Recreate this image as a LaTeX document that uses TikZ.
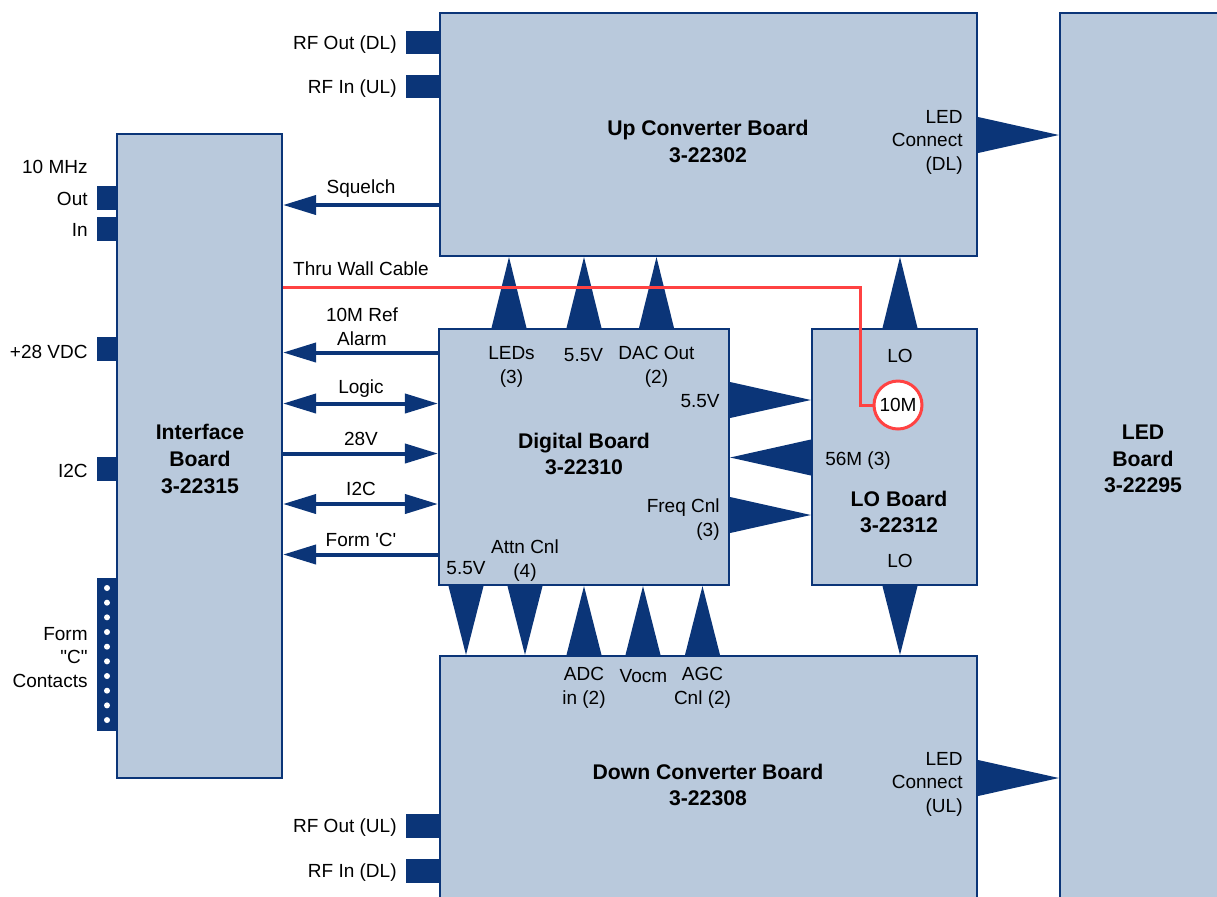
\documentclass[tikz,border=0pt]{standalone}
\usepackage{fontspec}
\setmainfont{Liberation Sans}[Ligatures=TeXOff]
\usetikzlibrary{arrows.meta,fit,calc}

\definecolor{boardfill}{HTML}{B9C9DC}
\definecolor{navy}{HTML}{0B3578}
\definecolor{cablered}{HTML}{FF4242}

% vertical wedge: x centre, base (node anchor), tip (node anchor)
\newcommand\vwedge[3]{\fill[wedge] (#1-17.5,0 |- #2) -- (#1+17.5,0 |- #2) -- (#1,0 |- #3) -- cycle;}
% horizontal wedge: y centre, base (node anchor), tip (node anchor)
\newcommand\hwedge[3]{\fill[wedge] (#2 |- 0,#1-18) -- (#2 |- 0,#1+18) -- (#3 |- 0,#1) -- cycle;}

\begin{document}
\begin{tikzpicture}[x=0.5pt, y=-0.5pt,
  board/.style={draw=navy, fill=boardfill, line width=1.1pt, inner sep=0pt},
  title/.style={font=\fontsize{10.6}{13.3}\selectfont\bfseries, align=center},
  lbl/.style={font=\fontsize{9.5}{11.75}\selectfont, align=center, inner sep=0pt, yshift=-1.2pt},
  rlbl/.style={lbl, align=right, anchor=east},
  wedge/.style={fill=navy},
  tab/.style={fill=navy},
  sig/.style={navy, line width=2pt, -{Triangle[length=16.5pt, width=9.5pt]}},
  sigboth/.style={sig, {Triangle[length=16.5pt, width=9.5pt]}-{Triangle[length=16.5pt, width=9.5pt]}},
  cable/.style={cablered, line width=1.5pt}]

\useasboundingbox (0,0) rectangle (1217,896);
\clip (0,0) rectangle (1217,896);

% ---- boards ----
\node[board, fit={(440,13) (977,256)}] (up) {};
\node[board, fit={(1060,13) (1240,920)}] (led) {};
\node[board, fit={(117,134) (282,778)}] (iface) {};
\node[board, fit={(439,329) (729,585)}] (dig) {};
\node[board, fit={(812,329) (977,585)}] (lo) {};
\node[board, fit={(440,656) (977,920)}] (down) {};

\node[title] (uptitle) at (708,141.5) {Up Converter Board\\3-22302};
\node[title] (ledtitle) at (1143,459) {LED\\Board\\3-22295};
\node[title] (iftitle) at (200,459) {Interface\\Board\\3-22315};
\node[title] (digtitle) at (584,454) {Digital Board\\3-22310};
\node[title] (lotitle) at (899,512) {LO Board\\3-22312};
\node[title] (downtitle) at (708,785) {Down Converter Board\\3-22308};

% ---- connector tabs ----
\fill[tab] (97,186) rectangle (iface.west |- 0,210);
\fill[tab] (97,217) rectangle (iface.west |- 0,241);
\fill[tab] (97,337) rectangle (iface.west |- 0,361);
\fill[tab] (97,457) rectangle (iface.west |- 0,481);
\fill[tab] (97,578) rectangle (iface.west |- 0,731);
\foreach \i in {0,...,9}
  \fill[white] (107,588+14.67*\i) circle (3);

\fill[tab] (406,31) rectangle (up.west |- 0,54);
\fill[tab] (406,75) rectangle (up.west |- 0,98);
\fill[tab] (406,814) rectangle (down.west |- 0,838);
\fill[tab] (406,859) rectangle (down.west |- 0,883);

\node[rlbl] (mhz) at (88,165) {10 MHz};
\node[rlbl] (out) at (88,197) {Out};
\node[rlbl] (in) at (88,228) {In};
\node[rlbl] (vdc) at (88,350) {+28 VDC};
\node[rlbl] (itc) at (88,469) {I2C};
\node[rlbl] (formc) at (88,655) {Form\\"C"\\Contacts};
\node[rlbl] (rfoutdl) at (397,42) {RF Out (DL)};
\node[rlbl] (rfinul) at (397,86) {RF In (UL)};
\node[rlbl] (rfoutul) at (397,825) {RF Out (UL)};
\node[rlbl] (rfindl) at (397,870) {RF In (DL)};

% ---- signals to interface board ----
\draw[sig] (up.west |- 0,205) -- (iface.east |- 0,205);
\draw[sig] (dig.west |- 0,352.5) -- (iface.east |- 0,352.5);
\draw[sigboth] (iface.east |- 0,403.5) -- (dig.west |- 0,403.5);
\draw[sig] (iface.east |- 0,453.5) -- (dig.west |- 0,453.5);
\draw[sigboth] (iface.east |- 0,504) -- (dig.west |- 0,504);
\draw[sig] (dig.west |- 0,554.5) -- (iface.east |- 0,554.5);

\node[lbl] (squelch) at (361,186) {Squelch};
\node[lbl] (thru) at (361,266.5) {Thru Wall Cable};
\node[lbl] (ref) at (362,324.5) {10M Ref\\Alarm};
\node[lbl] (logic) at (361,386) {Logic};
\node[lbl] (v28) at (361,436.5) {28V};
\node[lbl] (i2c) at (361,486.5) {I2C};
\node[lbl] (form) at (361,537.5) {Form 'C'};

% ---- wedges between boards ----
\vwedge{509}{dig.north}{up.south}
\vwedge{584}{dig.north}{up.south}
\vwedge{656.5}{dig.north}{up.south}
\vwedge{900}{lo.north}{up.south}
\vwedge{900}{lo.south}{down.north}
\vwedge{466}{dig.south}{down.north}
\vwedge{525}{dig.south}{down.north}
\vwedge{584}{down.north}{dig.south}
\vwedge{643}{down.north}{dig.south}
\vwedge{702.5}{down.north}{dig.south}
\hwedge{400}{dig.east}{lo.west}
\hwedge{457.5}{lo.west}{dig.east}
\hwedge{515}{dig.east}{lo.west}
\hwedge{135}{up.east}{led.west}
\hwedge{778}{down.east}{led.west}

\node[lbl] (leds) at (511.5,364.5) {LEDs\\(3)};
\node[lbl] (v55a) at (583.5,352.5) {5.5V};
\node[lbl] (dac) at (656.5,364.5) {DAC Out\\(2)};
\node[rlbl] (v55b) at (720,399) {5.5V};
\node[rlbl] (freq) at (720,517) {Freq Cnl\\(3)};
\node[lbl] (v55c) at (466,566) {5.5V};
\node[lbl] (attn) at (525,558) {Attn Cnl\\(4)};
\node[lbl] (adc) at (584,685.5) {ADC\\in (2)};
\node[lbl] (vocm) at (643.5,674) {Vocm};
\node[lbl] (agc) at (702.5,685.5) {AGC\\Cnl (2)};
\node[lbl] (lotop) at (900,354) {LO};
\node[lbl] (lobot) at (900,559) {LO};
\node[lbl] (m56) at (858,458) {56M (3)};
\node[rlbl] (leddl) at (963,140) {LED\\Connect\\(DL)};
\node[rlbl] (ledul) at (963,782) {LED\\Connect\\(UL)};

% ---- thru wall cable ----
\node[draw=cablered, line width=1.5pt, fill=white, circle, minimum size=24pt,
  inner sep=0pt, font=\fontsize{9.5}{11.75}\selectfont] (m10) at (898,405) {10M};
\draw[cable] (iface.east |- 0,287) -| ([xshift=-6pt]m10.west) -- (m10.west);

\end{tikzpicture}
\end{document}
